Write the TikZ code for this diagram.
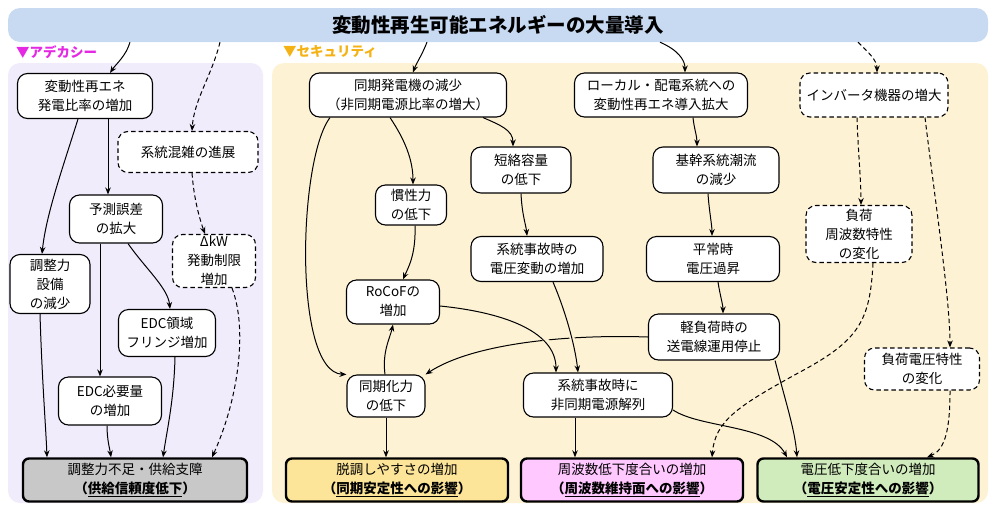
\documentclass[tikz,border=0pt]{standalone}
\usepackage{fontspec}
\setmainfont{Noto Sans CJK JP}
\usetikzlibrary{arrows.meta}
\definecolor{titlebg}{RGB}{200,218,242}
\definecolor{leftbg}{RGB}{241,236,252}
\definecolor{rightbg}{RGB}{253,242,212}
\definecolor{magentalbl}{RGB}{228,40,228}
\definecolor{goldlbl}{RGB}{245,178,20}
\definecolor{grayfill}{RGB}{200,200,200}
\definecolor{goldfill}{RGB}{252,228,152}
\definecolor{pinkfill}{RGB}{255,200,255}
\definecolor{greenfill}{RGB}{208,235,188}
\begin{document}
\begin{tikzpicture}[x=1pt,y=-1pt,
  box/.style={draw=black, line width=1.1pt, rounded corners=10pt, fill=white, align=center, inner sep=0pt, font=\fontsize{13.5}{19}\selectfont},
  dbox/.style={box, dash pattern=on 4.5pt off 3pt},
  botbox/.style={box, line width=2.4pt, rounded corners=6pt},
  sz/.style 2 args={minimum width=#1pt, minimum height=#2pt},
  arr/.style={-{Stealth[length=7pt,width=5.5pt]}, line width=1pt},
  darr/.style={arr, dash pattern=on 4.5pt off 3pt},
  bridge/.style={preaction={draw, rightbg, line width=5pt, -, shorten <=8pt, shorten >=10pt}},
  lbl/.style={anchor=west, inner sep=0pt, font=\fontsize{13.5}{15}\selectfont\bfseries}
]
\useasboundingbox (0,0) rectangle (1000,512);
\fill[white] (0,0) rectangle (1000,512);
% panels
\fill[leftbg, rounded corners=12pt] (8,63) rectangle (263,503);
\fill[rightbg, rounded corners=12pt] (272,63) rectangle (988,503);
% title
\node[fill=titlebg, rounded corners=12pt, sz={980}{34}, inner sep=0pt, font=\fontsize{19.5}{22}\selectfont\bfseries] (T) at (498,25) {変動性再生可能エネルギーの大量導入};
\node[lbl, text=magentalbl] (LA) at (16,52) {▼アデカシー};
\node[lbl, text=goldlbl] (LS) at (283,52) {▼セキュリティ};
% left nodes
\node[box, sz={135}{45}] (A1) at (85,96) {変動性再エネ\\発電比率の増加};
\node[dbox, sz={140}{41}] (A2) at (188,152) {系統混雑の進展};
\node[box, sz={93}{48}] (A3) at (116,219) {予測誤差\\の拡大};
\node[dbox, sz={83}{53}] (A4) at (214,261) {ΔkW\\発動制限\\増加};
\node[box, sz={80}{59}] (A5) at (50,284) {調整力\\設備\\の減少};
\node[box, sz={97}{47}] (A6) at (167,333) {EDC領域\\フリンジ増加};
\node[box, sz={103}{48}] (A7) at (110,401) {EDC必要量\\の増加};
\node[botbox, fill=grayfill, sz={224}{43}] (A8) at (135,480) {調整力不足・供給支障\\{\bfseries （\underline{供給信頼度低下}）}};
% right nodes
\node[box, sz={197}{44}] (B1) at (408,95) {同期発電機の減少\\（非同期電源比率の増大）};
\node[box, sz={173}{44}] (B2) at (661,95) {ローカル・配電系統への\\変動性再エネ導入拡大};
\node[dbox, sz={148}{44}] (B3) at (874,95) {インバータ機器の増大};
\node[box, sz={71}{40}] (B4) at (411,205) {慣性力\\の低下};
\node[box, sz={100}{46}] (B5) at (521,170) {短絡容量\\の低下};
\node[box, sz={126}{46}] (B6) at (716,170) {基幹系統潮流\\の減少};
\node[dbox, sz={106}{57}] (B7) at (859,234) {負荷\\周波数特性\\の変化};
\node[box, sz={93}{44}] (B8) at (393,302) {RoCoFの\\増加};
\node[box, sz={132}{45}] (B9) at (537,259) {系統事故時の\\電圧変動の増加};
\node[box, sz={133}{45}] (B10) at (713,259) {平常時\\電圧過昇};
\node[box, sz={131}{46}] (B11) at (714,337) {軽負荷時の\\送電線運用停止};
\node[dbox, sz={115}{42}] (B12) at (922,369) {負荷電圧特性\\の変化};
\node[box, sz={78}{42}] (B13) at (386,396) {同期化力\\の低下};
\node[box, sz={149}{44}] (B14) at (598,395) {系統事故時に\\非同期電源解列};
\node[botbox, fill=goldfill, sz={222}{43}] (D1) at (397,480) {脱調しやすさの増加\\{\bfseries （\underline{同期安定性への影響}）}};
\node[botbox, fill=pinkfill, sz={222}{43}] (D2) at (632,480) {周波数低下度合いの増加\\{\bfseries （\underline{周波数維持面への影響}）}};
\node[botbox, fill=greenfill, sz={221}{43}] (D3) at (868,480) {電圧低下度合いの増加\\{\bfseries （\underline{電圧安定性への影響}）}};
% title connectors
\draw[arr] ([xshift=-368pt]T.south) .. controls (126,56) and (116,64) .. ([xshift=25pt]A1.north);
\draw[darr] ([xshift=-278pt]T.south) .. controls (212,75) and (194,100) .. ([xshift=4pt]A2.north);
\draw[arr] ([xshift=-71pt]T.south) .. controls (422,55) and (416,64) .. ([xshift=5pt]B1.north);
\draw[arr] ([xshift=162pt]T.south) .. controls (678,50) and (685,60) .. ([xshift=24pt]B2.north);
\draw[darr] ([xshift=360pt]T.south) .. controls (868,52) and (877,60) .. ([xshift=3pt]B3.north);
% left connectors
\draw[arr] ([xshift=-7pt]A1.south) .. controls (62,170) and (46,215) .. ([xshift=-8pt]A5.north);
\draw[arr] ([xshift=23pt]A1.south) -- ([xshift=-8pt]A3.north);
\draw[darr] ([xshift=4pt]A2.south) .. controls (194,200) and (200,220) .. ([xshift=-9pt]A4.north);
\draw[arr] ([xshift=12pt]A3.south) .. controls (145,268) and (168,288) .. ([xshift=3pt]A6.north);
\draw[arr] ([xshift=-16pt]A3.south) -- ([xshift=-10pt]A7.north);
\draw[arr] ([xshift=-10pt]A5.south) .. controls (42,380) and (46,430) .. ([xshift=-88pt]A8.north);
\draw[arr] ([xshift=-3pt]A7.south) .. controls (107,440) and (110,450) .. ([xshift=-24pt]A8.north);
\draw[arr] ([xshift=8pt]A6.south) .. controls (174,400) and (167,430) .. ([xshift=28pt]A8.north);
\draw[darr] ([xshift=18pt]A4.south) .. controls (248,330) and (238,400) .. ([xshift=77pt]A8.north);
% right connectors
\draw[arr] ([xshift=-18pt]B1.south) .. controls (405,140) and (413,160) .. ([xshift=2pt]B4.north);
\draw[arr] ([xshift=75pt]B1.south) .. controls (500,125) and (513,130) .. ([xshift=-8pt]B5.north);
\draw[arr] ([xshift=-78pt]B1.south) .. controls (298,160) and (293,372) .. (B13.north west);
\draw[arr] ([xshift=4pt]B4.south) .. controls (416,255) and (408,268) .. ([xshift=10pt]B8.north);
\draw[arr] (B5.south) .. controls (522,215) and (526,225) .. ([xshift=-10pt]B9.north);
\draw[arr] ([xshift=32pt]B2.south) .. controls (694,128) and (697,136) .. ([xshift=-19pt]B6.north);
\draw[arr] ([xshift=-8pt]B6.south) .. controls (709,210) and (712,225) .. ([xshift=-1pt]B10.north);
\draw[arr] ([xshift=5pt]B10.south) .. controls (720,295) and (723,305) .. ([xshift=9pt]B11.north);
\draw[darr] ([xshift=-17pt]B3.south) .. controls (858,150) and (861,180) .. ([xshift=2pt]B7.north);
\draw[darr] ([xshift=51pt]B3.south) .. controls (935,200) and (950,300) .. ([xshift=28pt]B12.north);
\draw[arr] (B11.west) .. controls (560,334) and (470,345) .. (B13.north east);
\draw[arr, bridge] ([yshift=-4pt]B8.east) .. controls (500,312) and (556,330) .. ([xshift=-42pt]B14.north);
\draw[arr, bridge] ([xshift=16pt]B9.south) .. controls (565,310) and (575,345) .. ([xshift=-20pt]B14.north);
\draw[arr] ([xshift=-1pt]B13.north) .. controls (382,352) and (390,338) .. (B8.south);
\draw[arr] (B13.south) -- ([xshift=-11pt]D1.north);
\draw[arr] ([xshift=-23pt]B14.south) -- ([xshift=-57pt]D2.north);
\draw[arr] ([yshift=-15pt]B14.east) .. controls (700,428) and (770,425) .. ([xshift=-81pt]D3.north);
\draw[arr] ([xshift=-5pt]B11.south east) .. controls (785,400) and (795,430) .. ([xshift=-71pt]D3.north);
\draw[darr] ([xshift=14pt]B7.south) .. controls (870,320) and (860,340) .. (800,372) .. controls (740,405) and (715,420) .. ([xshift=80pt]D2.north);
\draw[darr] ([xshift=28pt]B12.south) .. controls (950,430) and (945,450) .. ([xshift=59pt]D3.north);
\end{tikzpicture}
\end{document}
